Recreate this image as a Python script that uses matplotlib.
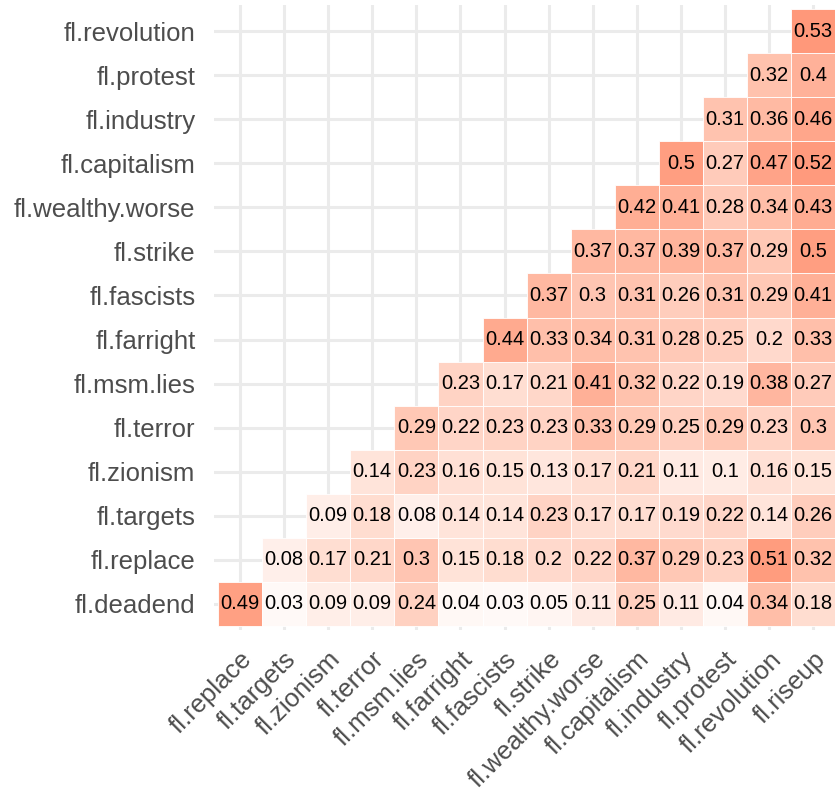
import numpy as np
import matplotlib
matplotlib.use("Agg")
import matplotlib.pyplot as plt
from matplotlib.colors import ListedColormap, Normalize

plt.rcParams['font.family'] = ['Liberation Sans', 'DejaVu Sans']

col_labels = ["fl.replace", "fl.targets", "fl.zionism", "fl.terror", "fl.msm.lies",
              "fl.farright", "fl.fascists", "fl.strike", "fl.wealthy.worse",
              "fl.capitalism", "fl.industry", "fl.protest", "fl.revolution", "fl.riseup"]
row_labels = ["fl.deadend", "fl.replace", "fl.targets", "fl.zionism", "fl.terror",
              "fl.msm.lies", "fl.farright", "fl.fascists", "fl.strike",
              "fl.wealthy.worse", "fl.capitalism", "fl.industry", "fl.protest",
              "fl.revolution"]

# each row ends at the last column (lower-triangle layout)
r_deadend = [0.49, 0.03, 0.09, 0.09, 0.24, 0.04, 0.03, 0.05, 0.11, 0.25, 0.11, 0.04, 0.34, 0.18]
r_replace = [0.08, 0.17, 0.21, 0.3, 0.15, 0.18, 0.2, 0.22, 0.37, 0.29, 0.23, 0.51, 0.32]
r_targets = [0.09, 0.18, 0.08, 0.14, 0.14, 0.23, 0.17, 0.17, 0.19, 0.22, 0.14, 0.26]
r_zionism = [0.14, 0.23, 0.16, 0.15, 0.13, 0.17, 0.21, 0.11, 0.1, 0.16, 0.15]
r_terror = [0.29, 0.22, 0.23, 0.23, 0.33, 0.29, 0.25, 0.29, 0.23, 0.3]
r_msm_lies = [0.23, 0.17, 0.21, 0.41, 0.32, 0.22, 0.19, 0.38, 0.27]
r_farright = [0.44, 0.33, 0.34, 0.31, 0.28, 0.25, 0.2, 0.33]
r_fascists = [0.37, 0.3, 0.31, 0.26, 0.31, 0.29, 0.41]
r_strike = [0.37, 0.37, 0.39, 0.37, 0.29, 0.5]
r_wealthy_worse = [0.42, 0.41, 0.28, 0.34, 0.43]
r_capitalism = [0.5, 0.27, 0.47, 0.52]
r_industry = [0.31, 0.36, 0.46]
r_protest = [0.32, 0.4]
r_revolution = [0.53]

rows = [r_deadend, r_replace, r_targets, r_zionism, r_terror, r_msm_lies, r_farright,
        r_fascists, r_strike, r_wealthy_worse, r_capitalism, r_industry, r_protest,
        r_revolution]

n = len(col_labels)


# --- Lab interpolation like ggplot2's scale_fill_gradient2 ---
def srgb_to_lab(c):
    c = np.asarray(c, float)
    lin = np.where(c <= 0.04045, c / 12.92, ((c + 0.055) / 1.055) ** 2.4)
    Mx = np.array([[0.4124, 0.3576, 0.1805], [0.2126, 0.7152, 0.0722], [0.0193, 0.1192, 0.9505]])
    xyz = Mx @ lin
    wp = np.array([0.95047, 1.0, 1.08883])
    t = xyz / wp
    f = np.where(t > (6 / 29) ** 3, np.cbrt(t), t / (3 * (6 / 29) ** 2) + 4 / 29)
    return np.array([116 * f[1] - 16, 500 * (f[0] - f[1]), 200 * (f[1] - f[2])])


def lab_to_srgb(lab):
    L, a, b = lab
    fy = (L + 16) / 116
    fx = fy + a / 500
    fz = fy - b / 200

    def finv(f):
        return f ** 3 if f > 6 / 29 else 3 * (6 / 29) ** 2 * (f - 4 / 29)
    wp = np.array([0.95047, 1.0, 1.08883])
    xyz = np.array([finv(fx), finv(fy), finv(fz)]) * wp
    Mi = np.array([[3.2406, -1.5372, -0.4986], [-0.9689, 1.8758, 0.0415], [0.0557, -0.2040, 1.0570]])
    lin = np.clip(Mi @ xyz, 0, 1)
    s = np.where(lin <= 0.0031308, 12.92 * lin, 1.055 * lin ** (1 / 2.4) - 0.055)
    return np.clip(s, 0, 1)


low = srgb_to_lab([0, 0, 1])
mid = srgb_to_lab([1, 1, 1])
high = srgb_to_lab([1, 0, 0])
cols = []
for t in np.linspace(-1, 1, 513):
    if t < 0:
        lab = mid + (low - mid) * (-t)
    else:
        lab = mid + (high - mid) * t
    cols.append(lab_to_srgb(lab))
cmap = ListedColormap(cols)
norm = Normalize(-1, 1)

fig = plt.figure(figsize=(8.35, 7.91), dpi=100)
W, H = 835, 791
left, right, top, bottom = 213.5, 839.7, 4.6, 630.4
ax = fig.add_axes([left / W, 1 - bottom / H, (right - left) / W, (bottom - top) / H])

ax.set_xlim(-0.6, n - 1 + 0.6)
ax.set_ylim(-0.6, len(row_labels) - 1 + 0.6)
ax.set_axisbelow(True)
ax.grid(True, color='#EBEBEB', linewidth=2.2, linestyle='-')
for s in ax.spines.values():
    s.set_visible(False)

for i, vals in enumerate(rows):
    xs = np.arange(n - len(vals), n)
    ax.bar(xs, 1.0, bottom=i - 0.5, width=1.0, color=cmap(norm(np.array(vals))),
           edgecolor='white', linewidth=0.6, zorder=2)
    for x, v in zip(xs, vals):
        ax.text(x, i, f"{v:g}", ha='center', va='center', fontsize=14.5,
                color='black', zorder=3)

ax.set_xticks(np.arange(n))
ax.set_yticks(np.arange(len(row_labels)))
ax.set_xticklabels(col_labels, rotation=45, ha='right', va='top',
                   rotation_mode='anchor', fontsize=18.5, color='#4D4D4D')
ax.set_yticklabels(row_labels, fontsize=18.5, color='#4D4D4D')
ax.tick_params(axis='both', length=0)
ax.tick_params(axis='y', pad=13)
ax.tick_params(axis='x', pad=12)

fig.savefig("out.png", dpi=100)
